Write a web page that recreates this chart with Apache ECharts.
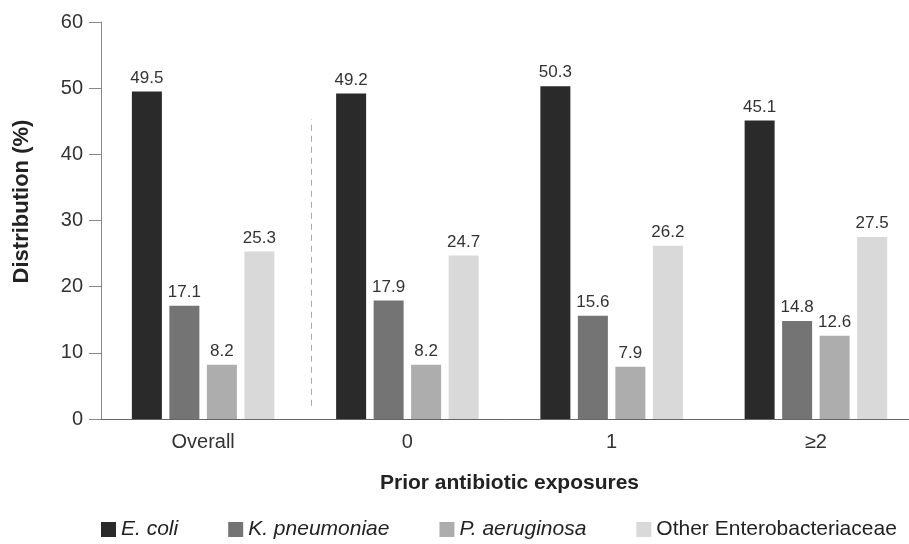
<!DOCTYPE html>
<html>
<head>
<meta charset="utf-8">
<script src="https://cdn.jsdelivr.net/npm/echarts@6/dist/echarts.min.js"></script>
<style>
  html, body { margin: 0; padding: 0; background: #fff; }
  #chart { width: 909px; height: 544px; }
</style>
</head>
<body>
<div id="chart"></div>
<script>
var categories = ['Overall', '0', '1', '\u22652'];
var seriesNames = ['E. coli', 'K. pneumoniae', 'P. aeruginosa', 'Other Enterobacteriaceae'];
var eColi = [49.5, 49.2, 50.3, 45.1];
var kPneumoniae = [17.1, 17.9, 15.6, 14.8];
var pAeruginosa = [8.2, 8.2, 7.9, 12.6];
var otherEntero = [25.3, 24.7, 26.2, 27.5];
var yTicks = [0, 60, 10]; // min, max, interval

var colors = ['#2a2a2a', '#747474', '#adadad', '#d9d9d9'];
var font = 'Liberation Sans, Arial, sans-serif';

var chart = echarts.init(document.getElementById('chart'));

function barSeries(name, data, color) {
  return {
    name: name,
    type: 'bar',
    data: data,
    barWidth: 30,
    barGap: '25%',
    itemStyle: {color: color},
    label: {
      show: true,
      position: 'top',
      distance: 5,
      color: '#333',
      fontSize: 17,
      fontFamily: font,
      formatter: function (p) { return p.value.toFixed(1); }
    }
  };
}

chart.setOption({
  animation: false,
  backgroundColor: '#fff',
  textStyle: {fontFamily: font},
  grid: {left: 101, width: 817, top: 22, bottom: 125, containLabel: false, outerBoundsMode: 'none'},
  legend: {
    data: seriesNames,
    top: 519,
    left: 101,
    padding: 0,
    icon: 'rect',
    itemWidth: 15,
    itemHeight: 15,
    itemGap: 50,
    textStyle: {
      color: '#222',
      fontSize: 21,
      fontFamily: font,
      rich: {i: {fontStyle: 'italic', fontSize: 21, color: '#222', fontFamily: font}}
    },
    formatter: function (name) {
      return name === 'Other Enterobacteriaceae' ? name : '{i|' + name + '}';
    }
  },
  xAxis: [{
    type: 'category',
    data: categories,
    name: 'Prior antibiotic exposures',
    nameLocation: 'middle',
    nameGap: 54,
    nameTextStyle: {fontSize: 21, fontWeight: 'bold', color: '#222', fontFamily: font},
    axisLine: {lineStyle: {color: '#666', width: 1}},
    axisTick: {show: false},
    axisLabel: {fontSize: 20, color: '#333', margin: 13, fontFamily: font}
  }, {
    type: 'value',
    min: 0,
    max: categories.length,
    show: false
  }],
  yAxis: {
    type: 'value',
    min: yTicks[0],
    max: yTicks[1],
    interval: yTicks[2],
    name: 'Distribution (%)',
    nameLocation: 'middle',
    nameGap: 68,
    nameTextStyle: {fontSize: 22, fontWeight: 'bold', color: '#222', fontFamily: font, padding: [0, 0, 0, 38]},
    axisLine: {show: true, lineStyle: {color: '#888', width: 1}},
    axisTick: {show: true, length: 12, lineStyle: {color: '#888'}},
    axisLabel: {fontSize: 20, color: '#333', margin: 18, fontFamily: font},
    splitLine: {show: false}
  },
  series: [
    barSeries(seriesNames[0], eColi, colors[0]),
    barSeries(seriesNames[1], kPneumoniae, colors[1]),
    barSeries(seriesNames[2], pAeruginosa, colors[2]),
    barSeries(seriesNames[3], otherEntero, colors[3]),
    {
      type: 'line',
      xAxisIndex: 1,
      data: [],
      silent: true,
      markLine: {
        silent: true,
        symbol: 'none',
        label: {show: false},
        lineStyle: {type: [6, 5], color: '#aaa', width: 1},
        data: [[{coord: [1.03, 2]}, {coord: [1.03, 45.3]}]]
      }
    }
  ]
});
</script>
</body>
</html>
